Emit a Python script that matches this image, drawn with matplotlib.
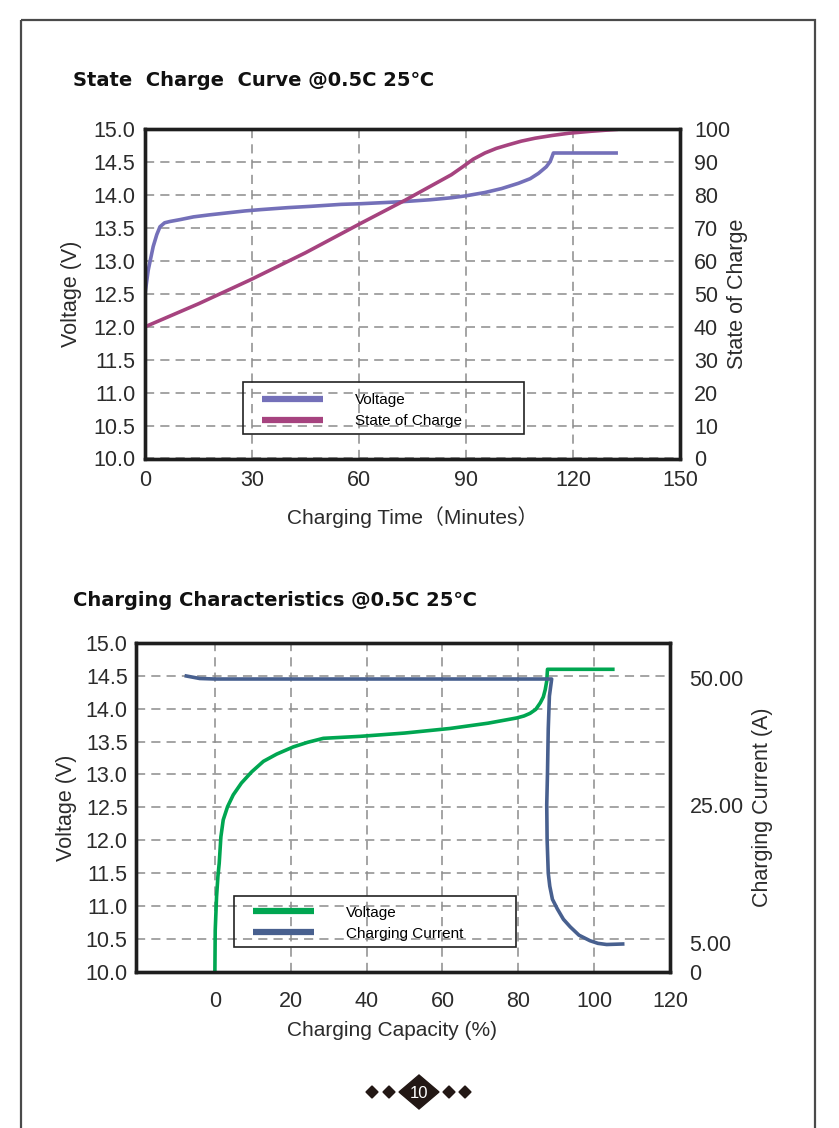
import numpy as np
import matplotlib
matplotlib.use("Agg")
import matplotlib.pyplot as plt
from matplotlib.patches import Polygon, Rectangle

plt.rcParams['font.family'] = ['Liberation Sans', 'DejaVu Sans', 'Noto Sans CJK SC']

# ---- chart 1 : state charge curve ----
t_volt = [0, 0.9, 2.3, 3.3, 4.2, 5.5, 7.0, 10, 13.6, 18, 23, 28, 32.4, 40, 46.5, 55, 60.6, 72,
          80, 85.9, 90, 95.3, 100, 104.7, 108, 110.3, 112.5, 113.6, 114.1, 114.5, 132.6]
volt1 = [12.5, 12.86, 13.22, 13.4, 13.52, 13.58, 13.6, 13.63, 13.67, 13.7, 13.73, 13.76, 13.78, 13.81,
         13.83, 13.86, 13.87, 13.9, 13.93, 13.96, 13.99, 14.04, 14.1, 14.18, 14.25, 14.33, 14.43,
         14.51, 14.58, 14.64, 14.64]
t_soc = [0, 15, 29.6, 45, 60.6, 73, 85.9, 89.2, 92, 95.3, 98.5, 101.9, 105.5, 109.4, 114, 118.8, 125, 132.6]
soc = [40, 47, 54.3, 62.5, 71.5, 78.5, 86.2, 88.7, 90.9, 92.8, 94.2, 95.3, 96.4, 97.3, 98.1, 98.8, 99.4, 100]

# ---- chart 2 : charging characteristics ----
cap_volt = [0, 0.09, 0.44, 0.8, 1.14, 1.58, 2.2, 3.34, 4.84, 7.0, 9.7, 12.8, 16.3, 20.7, 24.5, 28.6,
            38.3, 50, 62, 72, 79.6, 81.5, 83.1, 84.6, 85.8, 86.6, 87.1, 87.5, 87.7, 105.4]
volt2 = [10.0, 10.63, 11.14, 11.45, 11.65, 12.05, 12.31, 12.51, 12.69, 12.87, 13.04, 13.2, 13.31, 13.42,
         13.49, 13.55, 13.58, 13.63, 13.7, 13.78, 13.86, 13.89, 13.93, 13.99, 14.09, 14.18, 14.29,
         14.42, 14.6, 14.6]
cap_cur = [-8, -4, 0, 20, 40, 60, 80, 88.8, 88.2, 87.9, 87.7, 87.5, 87.6, 87.9, 88.3, 89.0, 90.3,
           91.9, 93.7, 96, 98.9, 101, 103.3, 108]
current = [50.4, 50.0, 49.9, 49.9, 49.9, 49.9, 49.9, 49.9, 46.5, 40, 31.4, 25, 19.9, 15.1, 13.2,
           11.3, 9.9, 8.4, 7.3, 6.1, 5.3, 4.9, 4.7, 4.8]

# current axis of the source is not linear: label value -> height in volts above 10 V
cur_knots = [0, 5, 25, 50, 55]
pos_knots = [0, 0.44, 2.54, 4.46, 5.0]

grid_kw = dict(color='#8c8c8c', linestyle=(0, (6, 4)), linewidth=1.1)
txt = '#2b2b2b'

fig = plt.figure(figsize=(8.39, 11.28), dpi=100)

# page frame and page number
bg = fig.add_axes([0, 0, 1, 1])
bg.set_xlim(0, 839)
bg.set_ylim(1128, 0)
bg.axis('off')
bg.add_patch(Rectangle((21, 20), 794, 1120, fill=False, edgecolor='#4a4a4a', linewidth=1.6))
for cx in [372, 389, 449, 465]:
    bg.add_patch(Polygon([[cx - 6, 1092], [cx, 1086], [cx + 6, 1092], [cx, 1098]], color='#231815'))
bg.add_patch(Polygon([[399, 1092], [419, 1075], [439, 1092], [419, 1109]], color='#231815'))
bg.text(419, 1093, '10', color='white', fontsize=12, ha='center', va='center')

fig.text(73 / 839, 1 - 81 / 1128, 'State  Charge  Curve @0.5C 25\u2103', fontsize=14,
         fontweight='bold', family=['DejaVu Sans', 'Noto Sans CJK SC'], va='center', color='#111')
fig.text(73 / 839, 1 - 600 / 1128, 'Charging Characteristics @0.5C 25\u2103', fontsize=14,
         fontweight='bold', family=['DejaVu Sans', 'Noto Sans CJK SC'], va='center', color='#111')


def style(ax, pad_x, pad_y):
    for s in ax.spines.values():
        s.set_linewidth(2.4)
        s.set_color('#1e1e1e')
    ax.tick_params(axis='both', length=0, labelsize=15.5, colors=txt)
    ax.tick_params(axis='x', pad=pad_x)
    ax.tick_params(axis='y', pad=pad_y)


def boxed_legend(ax, handles, labels, box, dy):
    # box = (x0, y0, w, h) in axes fraction; legend content sits inside without its own frame
    x0, y0, w, h = box
    ax.add_patch(Rectangle((x0, y0), w, h, transform=ax.transAxes, fill=False,
                           edgecolor='#222', linewidth=1.2, zorder=5))
    leg = ax.legend(handles, labels, loc='upper left', bbox_to_anchor=(x0 + 0.024, y0 + h - dy),
                    fontsize=11, handlelength=4, handletextpad=2.1, labelspacing=0.45,
                    borderpad=0.4, borderaxespad=0, frameon=False)
    for hl in leg.get_lines():
        hl.set_linewidth(4.5)
    return leg


# ---------------- chart 1 ----------------
ax1 = fig.add_axes([145 / 839, 1 - 458.5 / 1128, 535 / 839, 329.2 / 1128])
ax1.set_xlim(0, 150)
ax1.set_ylim(10, 15)
ax1.set_xticks(np.arange(0, 151, 30))
ax1.set_yticks(np.arange(10, 15.01, 0.5))
ax1.set_yticklabels(['%.1f' % v for v in np.arange(10, 15.01, 0.5)])
ax1.grid(True, **grid_kw)
style(ax1, 8, 7)
l1, = ax1.plot(t_volt, volt1, color='#7470b9', linewidth=2.6, solid_capstyle='butt')
ax1.set_ylabel('Voltage (V)', fontsize=15.5, color=txt, labelpad=8)
ax1.set_xlabel('Charging Time\uff08Minutes\uff09', fontsize=15, color=txt, labelpad=11,
               family=['Liberation Sans', 'Noto Sans CJK SC'])
ax1b = ax1.twinx()
ax1b.set_ylim(0, 100)
ax1b.set_yticks(np.arange(0, 101, 10))
style(ax1b, 8, 10)
l2, = ax1b.plot(t_soc, soc, color='#a6437f', linewidth=2.6, solid_capstyle='butt')
ax1b.set_ylabel('State of Charge', fontsize=15.5, color=txt, labelpad=-2)
boxed_legend(ax1b, [l1, l2], ['Voltage', 'State of Charge'], (0.183, 0.074, 0.525, 0.159), 0.016)

# ---------------- chart 2 ----------------
ax2 = fig.add_axes([136 / 839, 1 - 971.7 / 1128, 534 / 839, 328.7 / 1128])
ax2.set_xlim(-20.8, 120)
ax2.set_ylim(10, 15)
ax2.set_xticks(np.arange(0, 121, 20))
ax2.set_yticks(np.arange(10, 15.01, 0.5))
ax2.set_yticklabels(['%.1f' % v for v in np.arange(10, 15.01, 0.5)])
ax2.grid(True, **grid_kw)
style(ax2, 14, 6)
g1, = ax2.plot(cap_volt, volt2, color='#00a651', linewidth=2.6, solid_capstyle='butt')
ax2.set_ylabel('Voltage (V)', fontsize=15.5, color=txt, labelpad=6)
ax2.set_xlabel('Charging Capacity (%)', fontsize=15, color=txt, labelpad=6)
ax2.xaxis.set_label_coords((392 - 136) / 534, -0.15)


def fwd(c):
    return np.interp(c, cur_knots, pos_knots)


def inv(p):
    return np.interp(p, pos_knots, cur_knots)


ax2b = ax2.twinx()
ax2b.set_yscale('function', functions=(fwd, inv))
ax2b.set_ylim(0, 55)
ax2b.set_yticks([0, 5, 25, 50])
ax2b.set_yticklabels(['0', '5.00', '25.00', '50.00'])
style(ax2b, 14, 14)
g2, = ax2b.plot(cap_cur, current, color='#48608f', linewidth=2.6, solid_capstyle='butt')
ax2b.set_ylabel('Charging Current (A)', fontsize=15.5, color=txt, labelpad=6)
boxed_legend(ax2b, [g1, g2], ['Voltage', 'Charging Current'], (0.1835, 0.075, 0.528, 0.155), 0.011)

fig.savefig('out.png', dpi=100)
